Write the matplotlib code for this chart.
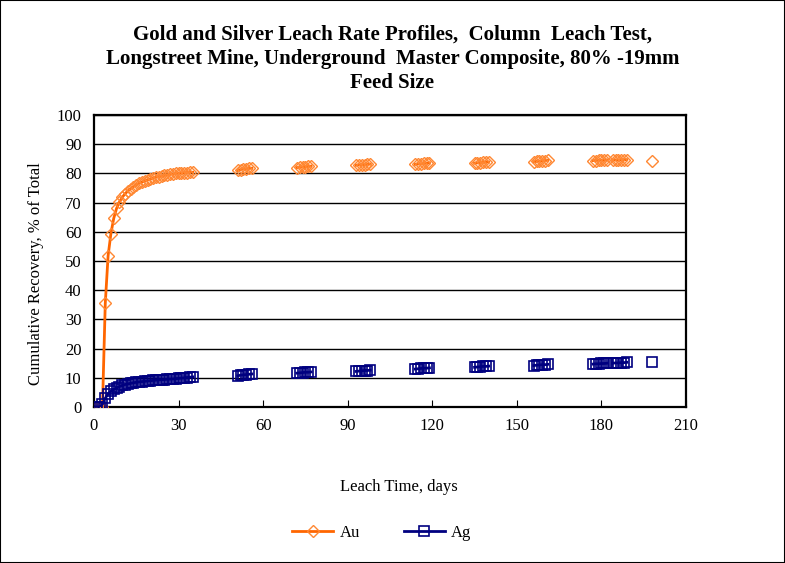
import numpy as np
import matplotlib
matplotlib.use('Agg')
import matplotlib.pyplot as plt
from matplotlib.patches import Rectangle

# leach time (days) and cumulative recovery (% of total)
days = [0, 1, 2, 3, 4, 5, 6, 7, 8, 9, 10, 11, 12, 13, 14, 15, 16, 17, 18, 19, 20,
        21, 22, 23, 24, 25, 26, 27, 28, 29, 30, 31, 32, 33, 34, 35,
        51, 52, 53, 54, 55, 56,
        72, 73, 74, 75, 76, 77,
        93, 94, 95, 96, 97, 98,
        114, 115, 116, 117, 118, 119,
        135, 136, 137, 138, 139, 140,
        156, 157, 158, 159, 160, 161,
        177, 178, 179, 180, 181, 182, 184, 185, 186, 187, 188, 189,
        198]

au = [0, 0, 0, 0, 35.5, 51.8, 59.4, 64.6, 68.0, 70.2, 71.8, 73.0, 74.0, 74.8, 75.5, 76.1,
      76.6, 77.0, 77.4, 77.8, 78.1, 78.4, 78.7, 78.9, 79.1, 79.3, 79.5, 79.7, 79.8, 80.0,
      80.1, 80.2, 80.3, 80.3, 80.4, 80.4,
      81.0, 81.3, 81.5, 81.6, 81.7, 81.8,
      82.0, 82.1, 82.2, 82.3, 82.4, 82.5,
      82.8, 82.9, 83.0, 83.0, 83.1, 83.2,
      83.1, 83.2, 83.3, 83.4, 83.5, 83.6,
      83.5, 83.6, 83.7, 83.8, 83.9, 83.9,
      84.0, 84.1, 84.2, 84.3, 84.4, 84.5,
      84.4, 84.4, 84.5, 84.5, 84.5, 84.6, 84.6, 84.6, 84.6, 84.7, 84.7, 84.7,
      84.4]

ag = [0, 0, 0, 1.0, 3.0, 4.5, 5.4, 6.0, 6.5, 7.0, 7.4, 7.7, 7.9, 8.1, 8.3, 8.45,
      8.6, 8.7, 8.8, 8.9, 9.0, 9.1, 9.2, 9.3, 9.35, 9.4, 9.5, 9.55, 9.6, 9.7,
      9.8, 9.9, 10.0, 10.1, 10.2, 10.3,
      10.7, 10.9, 11.0, 11.1, 11.2, 11.3,
      11.6, 11.7, 11.8, 11.9, 11.9, 12.0,
      12.2, 12.3, 12.4, 12.5, 12.5, 12.6,
      13.0, 13.1, 13.2, 13.3, 13.3, 13.4,
      13.6, 13.7, 13.8, 13.9, 13.9, 14.0,
      14.2, 14.3, 14.4, 14.5, 14.5, 14.6,
      14.7, 14.8, 14.8, 14.9, 14.9, 15.0, 15.0, 15.1, 15.1, 15.2, 15.2, 15.3,
      15.5]


def with_gaps(x, y):
    # break the line wherever a day is missing (blank cells in the sheet)
    xs, ys = [], []
    for i in range(len(x)):
        if i > 0 and x[i] - x[i - 1] > 1:
            xs.append(np.nan)
            ys.append(np.nan)
        xs.append(x[i])
        ys.append(y[i])
    return xs, ys


plt.rcParams['font.family'] = ['Liberation Serif', 'DejaVu Serif']

fig = plt.figure(figsize=(7.85, 5.63), dpi=100)
ax = fig.add_axes([94 / 785, 1 - 407 / 563, 592 / 785, 292 / 563])

orange = '#FF6600'
navy = '#000080'

xa, ya = with_gaps(days, au)
xg, yg = with_gaps(days, ag)
ax.plot(xa, ya, color=orange, lw=2, marker='D', ms=6, mfc='none', mec='#FF8833',
        mew=1, label='Au', zorder=3)
ax.plot(xg, yg, color=navy, lw=2, marker='s', ms=7, mfc='none', mec=navy,
        mew=1.2, label='Ag', zorder=3)

ax.set_xlim(0, 210)
ax.set_ylim(0, 100)
ax.set_xticks(np.arange(0, 211, 30))
ax.set_yticks(np.arange(0, 101, 10))
ax.yaxis.grid(True, color='black', lw=1)
ax.set_axisbelow(True)
ax.tick_params(axis='x', direction='in', length=5, labelsize=12, pad=8)
ax.tick_params(axis='y', length=0, labelsize=12, pad=9)
for s in ax.spines.values():
    s.set_linewidth(1.6)

fig.text(399 / 785, 1 - 487 / 563, 'Leach Time, days', ha='center', va='center', fontsize=12)
fig.text(36 / 785, 1 - 274 / 563, 'Cumulative Recovery, % of Total', ha='center',
         va='center', rotation=90, fontsize=12)
fig.text(0.5, 1 - 59 / 563,
         'Gold and Silver Leach Rate Profiles,  Column  Leach Test,\n'
         'Longstreet Mine, Underground  Master Composite, 80% -19mm\nFeed Size',
         ha='center', va='center', fontsize=15, fontweight='bold', linespacing=1.28)

fig.legend(loc='center', bbox_to_anchor=(382 / 785, 1 - 533 / 563), ncol=2, frameon=False,
           fontsize=12, handlelength=2.45, columnspacing=2.6, handletextpad=0.4)

fig.patches.append(Rectangle((0, 0), 1, 1, transform=fig.transFigure, fill=False,
                             edgecolor='black', lw=1.5))

fig.savefig('out.png', dpi=100)
